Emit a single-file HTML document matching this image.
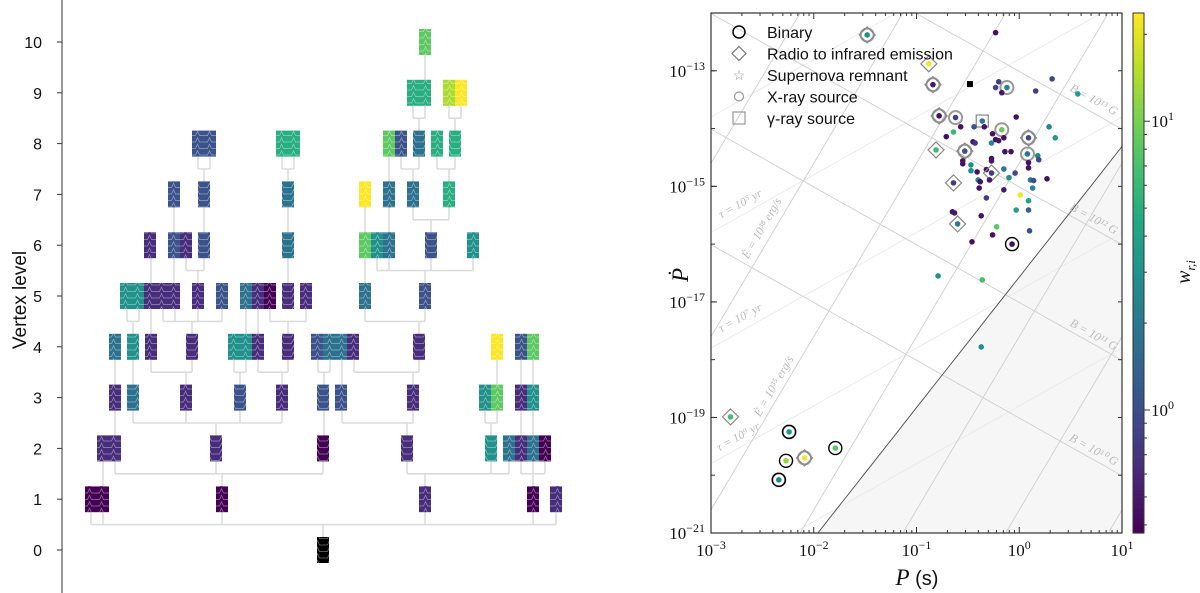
<!DOCTYPE html>
<html><head><meta charset="utf-8"><style>
html,body{margin:0;padding:0;background:#fff;overflow:hidden;width:1200px;height:593px;}
svg{display:block;font-family:"Liberation Sans",sans-serif;}
</style></head><body>
<svg id="fig" width="1200" height="593" viewBox="0 0 1200 593">
<defs>
<pattern id="wave" width="12" height="6.5" patternUnits="userSpaceOnUse">
<path d="M0 5.5 L3.5 5.5 L5.5 1.2 L7.5 5.5 L12 5.5" fill="none" stroke="rgba(255,255,255,0.45)" stroke-width="0.7"/>
</pattern>
<clipPath id="plotclip"><rect x="711" y="13" width="411" height="520"/></clipPath>
</defs>
<g id="left"></g>
<g id="right"></g>
</svg>
<script>
// ---------- Left tree data ----------
const treeLevels = [0,1,2,3,4,5,6,7,8,9,10];
// nodes: [level, left-x of first box, colour codes per sub-box]
const treeNodes = [
 [0,317,'k'],
 [1,85,'dd'],[1,216,'d'],[1,419,'p'],[1,527,'d'],[1,550,'p'],
 [2,97,'pp'],[2,210,'p'],[2,317,'d'],[2,401,'p'],[2,485,'t'],[2,503,'bpbd'],
 [3,109,'p'],[3,127,'b'],[3,180,'p'],[3,234,'P'],[3,276,'p'],[3,317,'P'],[3,335,'P'],[3,407,'p'],[3,479,'tG'],[3,515,'pt'],
 [4,109,'b'],[4,127,'t'],[4,145,'p'],[4,186,'p'],[4,228,'ttp'],[4,282,'p'],[4,311,'Pbbp'],[4,413,'p'],[4,491,'y'],[4,515,'PG'],
 [5,120,'ttppp'],[5,192,'p'],[5,216,'P'],[5,240,'bpd'],[5,282,'p'],[5,300,'p'],[5,359,'b'],[5,419,'P'],
 [6,144,'p'],[6,168,'Pp'],[6,198,'P'],[6,282,'b'],[6,359,'Gtb'],[6,425,'P'],[6,467,'t'],
 [7,168,'P'],[7,198,'P'],[7,282,'b'],[7,359,'y'],[7,383,'b'],[7,407,'b'],[7,443,'g'],
 [8,192,'PP'],[8,276,'gg'],[8,383,'GP'],[8,413,'b'],[8,431,'g'],[8,449,'g'],
 [9,407,'gg'],[9,443,'ly'],
 [10,419,'G']
];
// edge groups: [child level, parent x, child xs]
const treeEdges = [
 [1,323,[91,103,222,425,533,556]],
 [2,222,[115,216,323]],[2,103,[103]],[2,425,[407,491,509]],[2,533,[521,533,545]],
 [3,216,[133,186,240,282]],[3,115,[115]],[3,324,[324]],[3,407,[342,413]],[3,491,[485,497]],[3,521,[521]],[3,533,[533]],
 [4,186,[151,192]],[4,115,[115]],[4,133,[133]],[4,240,[234,246]],[4,282,[258,288]],[4,324,[318,330]],[4,342,[342]],[4,413,[354,419]],[4,497,[497]],[4,521,[521]],[4,533,[533]],
 [5,133,[127,139]],[5,192,[163,175,198,222]],[5,151,[151]],[5,246,[246]],[5,258,[258]],[5,288,[270,306]],[5,419,[365,425]],
 [6,151,[151]],[6,174,[174]],[6,198,[186,204]],[6,288,[288]],[6,365,[365]],[6,425,[377,389,431,473]],
 [7,174,[174]],[7,204,[204]],[7,288,[288]],[7,365,[365]],[7,389,[389]],[7,431,[413,449]],
 [8,204,[198,210]],[8,288,[282,294]],[8,389,[389]],[8,413,[401,419]],[8,449,[437,455]],
 [9,419,[413,425]],[9,455,[449,461]],
 [10,425,[425]]
];
// ---------- Right chart data ----------
const logP = [-1.48,-0.23,-0.88,-0.84,-0.48,-0.20,-0.23,-0.12,-0.17,0.16,0.32,0.57,-0.78,-0.62,-0.36,-0.03,-0.57,-0.44,-0.34,-0.64,-0.17,0.29,0.35,0.09,-0.71,-0.26,-0.23,-0.20,-0.15,-0.27,-0.45,-0.43,-0.81,-0.53,-0.14,-0.08,0.08,0.18,0.19,-0.27,-0.27,-0.55,-0.55,0.09,0.09,-0.47,-0.15,-0.32,-0.27,-0.47,-0.41,-0.04,-0.10,-0.29,0.11,0.14,0.27,-0.40,-0.38,-0.64,-0.39,0.13,-0.15,0.01,-0.32,0.09,-0.03,0.09,-0.65,-0.63,-0.37,-0.60,-0.22,0.10,-0.26,-0.46,-0.07,-0.79,-0.36,-0.37,-2.81,-2.24,-1.79,-2.27,-2.09,-2.34];
const logPdot = [-12.38,-12.34,-12.88,-13.24,-13.23,-13.19,-13.29,-13.29,-13.38,-13.35,-13.14,-13.40,-13.78,-13.81,-13.87,-13.80,-13.97,-13.97,-13.97,-14.06,-14.02,-13.97,-14.16,-14.16,-14.14,-14.09,-14.19,-14.21,-14.16,-14.25,-14.23,-14.25,-14.37,-14.39,-14.40,-14.40,-14.44,-14.47,-14.54,-14.52,-14.56,-14.56,-14.61,-14.59,-14.68,-14.63,-14.70,-14.71,-14.77,-14.73,-14.75,-14.77,-14.85,-14.89,-14.89,-14.90,-14.87,-14.89,-14.92,-14.94,-15.03,-15.03,-15.06,-15.15,-15.20,-15.25,-15.41,-15.41,-15.44,-15.46,-15.51,-15.65,-15.70,-15.77,-15.84,-15.96,-16.00,-16.55,-16.62,-17.78,-18.99,-19.25,-19.53,-19.75,-19.70,-20.08];
const weights = [3,0.45,22,0.5,0,0.8,0.9,2.5,0.5,0.8,0.9,3.5,0.45,0.8,2,0.45,0.45,1.1,0.45,6,9,2.5,3.5,0.9,0.45,0.45,0.45,0.5,0.45,2.5,0.45,0.7,6,1,0.45,0.45,2,2.5,0.9,0.45,0.5,0.45,0.45,0.45,0.45,3,2,0.45,0.8,3,0.45,0.9,3,0.5,2,1,0.45,2.5,0.45,0.8,0.45,2.5,0.5,22,0.8,4,4,1.3,0.45,0.5,0.45,2,8,1.1,0.45,0.45,0.45,3,7,3,7,3.5,8,12,22,2.5];
const markerTypes = ['xd','','d','xd','k','','','x','','','','','xd','x','s','','','','','','x','','','dx','','','','','','','','','d','xd','','','x','','','','','','','','','','','','d','','','','','','','','','','','d','','','','','','','','','','','','d','','','','','b','','','','d','bx','b','b','xd','bx'];
const xTicks = [-3,-2,-1,0,1];
const yTicks = [-21,-19,-17,-15,-13];
const bFields = [10,11,12,13,14];
const tauAges = [3,5,7,9,11];
const edotVals = [41,38,35,32,29,26,23];
const cbTicks = [0,1];

const NS='http://www.w3.org/2000/svg';
function mk(parent,tag,attrs,text){const e=document.createElementNS(NS,tag);for(const k in attrs)e.setAttribute(k,attrs[k]);if(text!==undefined)e.textContent=text;parent.appendChild(e);return e;}
const stops=['#440154','#482475','#414487','#355f8d','#2a788e','#21918c','#22a884','#44bf70','#7ad151','#bddf26','#fde725'];
function hx(c){return [parseInt(c.slice(1,3),16),parseInt(c.slice(3,5),16),parseInt(c.slice(5,7),16)];}
function viridis(t){t=Math.max(0,Math.min(1,t));const f=t*10,i=Math.min(9,Math.floor(f)),r=f-i;const a=hx(stops[i]),b=hx(stops[i+1]);return 'rgb('+a.map((v,k)=>Math.round(v+(b[k]-v)*r)).join(',')+')';}
const codeCol={k:'#000000',d:'#440154',p:'#472d7b',P:'#3b528b',b:'#2c728e',t:'#21918c',g:'#28ae80',G:'#5ec962',l:'#addc30',y:'#fde725'};

// ---------- Left panel ----------
const L=document.getElementById('left');
const levY=l=>550-50.8*l;
const ax=mk(L,'line',{x1:62,y1:0,x2:62,y2:593,stroke:'#333','stroke-width':1});

treeLevels.forEach(l=>{
 const t=mk(L,'line',{x1:57,y1:levY(l),x2:62,y2:levY(l),stroke:'#333'});
 
 const tx=mk(L,'text',{x:42,y:levY(l)+6,'text-anchor':'end','font-size':16,fill:'#111'},String(l));
 
});
const yl=mk(L,'text',{x:26,y:300,'text-anchor':'middle','font-size':19,transform:'rotate(-90 26 300)',fill:'#111'},'Vertex level');

const eg=mk(L,'g',{stroke:'#dcdcdc','stroke-width':1.6,fill:'none'});
treeEdges.forEach(([cl,px,cxs])=>{
 const cb=levY(cl)+13, pt=levY(cl-1)-13, my=(cb+pt)/2;
 let d='';
 if(cxs.length===1&&cxs[0]===px){d='M'+px+' '+cb+'V'+pt;}
 else{cxs.forEach(x=>{d+='M'+x+' '+cb+'V'+my;});
  d+='M'+Math.min(...cxs,px)+' '+my+'H'+Math.max(...cxs,px)+'M'+px+' '+my+'V'+pt;}
 const p=mk(eg,'path',{d:d});
 
});
treeNodes.forEach(([l,x,cs])=>{
 const g=mk(L,'g',{});
 
 [...cs].forEach((c,i)=>{
  mk(g,'rect',{x:x+12*i,y:levY(l)-13,width:12,height:26,fill:codeCol[c]});
  mk(g,'rect',{x:x+12*i,y:levY(l)-13,width:12,height:26,fill:'url(#wave)'});
 });
});

// ---------- Right panel ----------
const R=document.getElementById('right');
const X0=711,X1=1122,Y0=13,Y1=533;
const sx=v=>X0+(v+3)*(X1-X0)/4;
const sy=v=>Y1-(v+21)*(Y1-Y0)/9;
const cg=mk(R,'g',{'clip-path':'url(#plotclip)'});
const dl=lp=>-21+2.26*(lp+1.96);
const sh=mk(cg,'path',{d:'M'+sx(-1.96)+' '+sy(-21)+'L'+sx(1)+' '+sy(dl(1))+'L'+sx(1)+' '+sy(-21)+'Z',fill:'#f6f6f6'});

function gline(f,stroke,w,name){const a=-3,b=1;let d='';for(let i=0;i<=40;i++){const lp=a+(b-a)*i/40;d+=(i?'L':'M')+sx(lp).toFixed(1)+' '+sy(f(lp)).toFixed(1);}const p=mk(cg,'path',{d:d,stroke:stroke,'stroke-width':w,fill:'none'});}
tauAges.forEach(k=>gline(lp=>lp-7.8-k,'#ebebeb',1,'age-line'));
bFields.forEach(k=>gline(lp=>2*(k-19.505)-lp,'#d2d2d2',1,'b-field-line'));
edotVals.forEach(k=>gline(lp=>k-46.6+3*lp,'#d2d2d2',1,'edot-line'));
gline(dl,'#555',1,'death-line');
const labs=[['B = 10¹³ G',1092,103,29],['B = 10¹² G',1092,222,29],['B = 10¹¹ G',1092,338,29],['B = 10¹⁰ G',1092,453,29],['τ = 10⁵ yr',742,207,-29],['τ = 10⁷ yr',742,321,-29],['τ = 10⁹ yr',740,440,-29],['Ė = 10³⁸ erg/s',765,230,-60],['Ė = 10³⁵ erg/s',777,388,-60]];
labs.forEach(([s,x,y,r])=>{const t=mk(cg,'text',{x:x,y:y,'font-family':'"Liberation Serif",serif','font-style':'italic','font-size':12,fill:'#bbb','text-anchor':'middle',transform:'rotate('+r+' '+x+' '+y+')'},s);});
const cbMin=Math.log10(0.375),cbMax=Math.log10(23.7);
const pg=mk(cg,'g',{});
logP.forEach((lp,i)=>{
 const x=sx(lp),y=sy(logPdot[i]),m=markerTypes[i];
 const g=mk(pg,'g',{});
 
 if(m.includes('x'))mk(g,'circle',{cx:x,cy:y,r:6.5,fill:'none',stroke:'#999','stroke-width':2});
 if(m.includes('d'))mk(g,'path',{d:'M'+x+' '+(y-8)+'L'+(x+8)+' '+y+'L'+x+' '+(y+8)+'L'+(x-8)+' '+y+'Z',fill:'none',stroke:'#888','stroke-width':1.2});
 if(m.includes('s'))mk(g,'rect',{x:x-6,y:y-6,width:12,height:12,fill:'none',stroke:'#888','stroke-width':1.2});
 if(m.includes('b'))mk(g,'circle',{cx:x,cy:y,r:6.5,fill:'none',stroke:'#000','stroke-width':1.4});
 if(m==='k'){mk(g,'rect',{x:x-3,y:y-3,width:6,height:6,fill:'#000'});}
 else mk(g,'circle',{cx:x,cy:y,r:2.8,fill:viridis((Math.log10(weights[i])-cbMin)/(cbMax-cbMin))});
});
const fr=mk(R,'rect',{x:X0,y:Y0,width:X1-X0,height:Y1-Y0,fill:'none',stroke:'#333','stroke-width':1.2});

for(let d=-3;d<1;d++)for(let k=2;k<10;k++){const x=sx(d+Math.log10(k));mk(R,'line',{x1:x,y1:Y1,x2:x,y2:Y1-3,stroke:'#333'});mk(R,'line',{x1:x,y1:Y0,x2:x,y2:Y0+3,stroke:'#333'});}
xTicks.forEach(v=>{const x=sx(v);mk(R,'line',{x1:x,y1:Y1,x2:x,y2:Y1-6,stroke:'#333'});mk(R,'line',{x1:x,y1:Y0,x2:x,y2:Y0+6,stroke:'#333'});
 const t=mk(R,'text',{x:x,y:556,'text-anchor':'middle','font-family':'"Liberation Serif",serif','font-size':17,fill:'#111'});
 
 mk(t,'tspan',{},'10');mk(t,'tspan',{dy:-7,'font-size':12},String(v).replace('-','−'));});
for(let d=-21;d<=-12;d++){const y=sy(d);mk(R,'line',{x1:X0,y1:y,x2:X0+4,y2:y,stroke:'#333'});mk(R,'line',{x1:X1,y1:y,x2:X1-4,y2:y,stroke:'#333'});}
yTicks.forEach(v=>{const y=sy(v);mk(R,'line',{x1:X0,y1:y,x2:X0+6,y2:y,stroke:'#333'});
 const t=mk(R,'text',{x:705,y:y+6,'text-anchor':'end','font-family':'"Liberation Serif",serif','font-size':17,fill:'#111'});
 
 mk(t,'tspan',{},'10');mk(t,'tspan',{dy:-7,'font-size':12},String(v).replace('-','−'));});
const xt=mk(R,'text',{x:917,y:585,'text-anchor':'middle','font-size':20,fill:'#111'});

mk(xt,'tspan',{'font-family':'"Liberation Serif",serif','font-style':'italic','font-size':23},'P');mk(xt,'tspan',{},' (s)');
const yt=mk(R,'text',{x:688,y:275,'text-anchor':'middle','font-family':'"Liberation Serif",serif','font-style':'italic','font-size':23,fill:'#111',transform:'rotate(-90 688 275)'},'Ṗ');

const leg=[['Binary','bin'],['Radio to infrared emission','dia'],['Supernova remnant','star'],['X-ray source','xr'],['γ-ray source','sq']];
leg.forEach(([s,k],i)=>{const y=32+21.5*i,x=739;const g=mk(R,'g',{});
 
 if(k==='bin')mk(g,'circle',{cx:x,cy:y,r:6,fill:'none',stroke:'#000','stroke-width':1.5});
 if(k==='dia')mk(g,'path',{d:'M'+x+' '+(y-7)+'L'+(x+7)+' '+y+'L'+x+' '+(y+7)+'L'+(x-7)+' '+y+'Z',fill:'none',stroke:'#777','stroke-width':1.2});
 if(k==='star')mk(g,'text',{x:x,y:y+5,'text-anchor':'middle','font-size':14,fill:'#999'},'☆');
 if(k==='xr')mk(g,'circle',{cx:x,cy:y,r:4.5,fill:'none',stroke:'#999','stroke-width':1.2});
 if(k==='sq')mk(g,'rect',{x:x-6,y:y-6,width:12,height:12,fill:'none',stroke:'#999','stroke-width':1.2});
 mk(g,'text',{x:767,y:y+6,'font-size':16,fill:'#111'},s);});
const cbx=1133,cbw=11;
for(let i=0;i<104;i++){const t=i/104;mk(R,'rect',{x:cbx,y:Y1-(i+1)*5,width:cbw,height:5.6,fill:viridis(t+0.5/104)});}
const cbf=mk(R,'rect',{x:cbx,y:Y0,width:cbw,height:Y1-Y0,fill:'none',stroke:'#333'});

const cy=v=>Y1-(v-cbMin)/(cbMax-cbMin)*(Y1-Y0);
[0.4,0.5,0.6,0.7,0.8,0.9,2,3,4,5,6,7,8,9,20].forEach(v=>{const y=cy(Math.log10(v));mk(R,'line',{x1:cbx+cbw,y1:y,x2:cbx+cbw+3,y2:y,stroke:'#333'});});
cbTicks.forEach(v=>{const y=cy(v);mk(R,'line',{x1:cbx+cbw,y1:y,x2:cbx+cbw+6,y2:y,stroke:'#333'});
 const t=mk(R,'text',{x:1151,y:y+6,'font-family':'"Liberation Serif",serif','font-size':17,fill:'#111'});
 
 mk(t,'tspan',{},'10');mk(t,'tspan',{dy:-7,'font-size':12},String(v));});
const cl=mk(R,'text',{x:1190,y:272,'text-anchor':'middle','font-family':'"Liberation Serif",serif','font-style':'italic','font-size':20,fill:'#111',transform:'rotate(-90 1190 272)'});

mk(cl,'tspan',{},'w');mk(cl,'tspan',{dy:5,'font-size':13},'r,i');
</script>
</body></html>
